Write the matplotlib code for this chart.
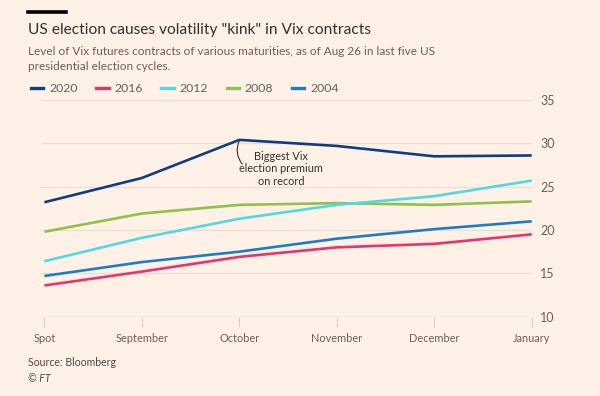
import matplotlib
matplotlib.use("Agg")
import matplotlib.pyplot as plt
from matplotlib.lines import Line2D

plt.rcParams["font.family"] = ["Lato", "DejaVu Sans"]

maturities = ["Spot", "September", "October", "November", "December", "January"]
years = ["2020", "2016", "2012", "2008", "2004"]
vix_2020 = [23.2, 26.0, 30.4, 29.7, 28.5, 28.6]
vix_2016 = [13.6, 15.2, 16.9, 18.0, 18.4, 19.5]
vix_2012 = [16.4, 19.1, 21.3, 22.9, 23.9, 25.7]
vix_2008 = [19.8, 21.9, 22.9, 23.1, 22.9, 23.3]
vix_2004 = [14.7, 16.3, 17.5, 19.0, 20.1, 21.0]
series = [vix_2020, vix_2016, vix_2012, vix_2008, vix_2004]
colours = ["#0f3c85", "#e8336f", "#4fd9e3", "#8ec24a", "#1a7ec3"]

bg = "#fff1e5"
grey = "#66605c"
W, H = 600, 396

fig = plt.figure(figsize=(6, 3.96), dpi=100, facecolor=bg)
ax = fig.add_axes([0.0683, 0.2003, 0.8179, 0.5472], facecolor=bg)

x = list(range(len(maturities)))
# draw 2004 first so the newer cycles sit on top
for vals, c in list(zip(series, colours))[::-1]:
    ax.plot(x, vals, color=c, lw=1.9, solid_capstyle="butt", clip_on=False)

ax.set_xlim(-0.035, 5.0)
ax.set_ylim(10, 35)
ax.set_yticks([10, 15, 20, 25, 30, 35])
ax.yaxis.tick_right()
ax.grid(axis="y", color="#e9ded3", lw=0.9)
ax.set_axisbelow(True)
for s in ax.spines.values():
    s.set_visible(False)
ax.tick_params(axis="y", length=0, pad=6, labelsize=9, labelcolor=grey)
ax.set_xticks(x)
ax.set_xticklabels(maturities)
ax.tick_params(axis="x", length=7, width=0.8, color="#d9cdc2", pad=5,
               labelsize=7.9, labelcolor=grey)
ax.axhline(10, color="#d9cdc2", lw=0.9, zorder=1)

# annotation
ax.annotate("", xy=(2.0, 30.3), xytext=(2.03, 27.6),
            arrowprops=dict(arrowstyle="-", color="#33302e", lw=0.8,
                            connectionstyle="arc3,rad=-0.3", shrinkA=0, shrinkB=0))
ax.text(2.43, 27.05, "Biggest Vix\nelection premium\non record", ha="center",
        va="center", fontsize=7.8, color="#33302e", linespacing=1.2)

# header
fig.add_artist(Line2D([28 / W, 66 / W], [1 - 11.5 / H] * 2, color="black", lw=2.6))
fig.text(28 / W, 1 - 30 / H, 'US election causes volatility "kink" in Vix contracts',
         fontsize=11.2, color="#33302e", va="center")
fig.text(28 / W, 1 - 59 / H,
         "Level of Vix futures contracts of various maturities, as of Aug 26 in last five US\n"
         "presidential election cycles.",
         fontsize=8.5, color=grey, va="center", linespacing=1.35)

# legend
for i, (yr, c) in enumerate(zip(years, colours)):
    x0 = 30.7 + 65.3 * i
    fig.add_artist(Line2D([x0 / W, (x0 + 12.6) / W], [1 - 88 / H] * 2, color=c, lw=2.4))
    fig.text((x0 + 18.3) / W, 1 - 88 / H, yr, fontsize=8.8, color=grey, va="center")

fig.text(28 / W, 1 - 363 / H, "Source: Bloomberg", fontsize=7.6, color="#4d4845", va="center")
fig.text(28 / W, 1 - 379 / H, "© FT", fontsize=7.6, color="#4d4845", va="center", style="italic")

fig.savefig("out.png", dpi=100, facecolor=bg)
